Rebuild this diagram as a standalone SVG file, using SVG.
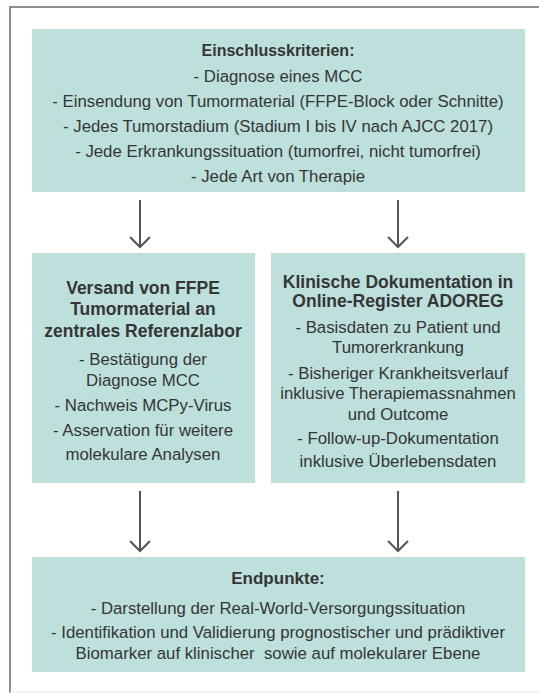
<svg xmlns="http://www.w3.org/2000/svg" width="539" height="693" viewBox="0 0 539 693">
<defs>
<style>
.box{fill:#bde0dc;}
.t{font-family:"Liberation Sans",Arial,sans-serif;font-size:16.8px;fill:#353535;text-anchor:middle;}
.b{font-weight:bold;font-size:17.5px;}
.arr{stroke:#555;stroke-width:2;fill:none;}
</style>
</defs>
<rect x="0" y="0" width="539" height="693" fill="#fff"/>
<g id="frame">
<path d="M10,693 V7 H539" stroke="#8e8e8e" stroke-width="2" fill="none"/>
<line x1="10" y1="692" x2="539" y2="692" stroke="#e6e6e6" stroke-width="1"/>
</g>
<g id="einschluss">
<rect class="box" x="32" y="29" width="493" height="163"/>
<text class="t b" x="278" y="56" style="font-size:16px">Einschlusskriterien:</text>
<text class="t" x="278" y="82">- Diagnose eines MCC</text>
<text class="t" x="278" y="107">- Einsendung von Tumormaterial (FFPE-Block oder Schnitte)</text>
<text class="t" x="278" y="132">- Jedes Tumorstadium (Stadium I bis IV nach AJCC 2017)</text>
<text class="t" x="278" y="157">- Jede Erkrankungssituation (tumorfrei, nicht tumorfrei)</text>
<text class="t" x="278" y="182">- Jede Art von Therapie</text>
</g>
<g id="versand">
<rect class="box" x="32" y="253" width="223" height="230"/>
<text class="t b" x="143" y="294">Versand von FFPE</text>
<text class="t b" x="143" y="315">Tumormaterial an</text>
<text class="t b" x="143" y="337">zentrales Referenzlabor</text>
<text class="t" x="143" y="365">- Bestätigung der</text>
<text class="t" x="143" y="386">Diagnose MCC</text>
<text class="t" x="143" y="411">- Nachweis MCPy-Virus</text>
<text class="t" x="143" y="436">- Asservation für weitere</text>
<text class="t" x="143" y="460">molekulare Analysen</text>
</g>
<g id="klinisch">
<rect class="box" x="271" y="253" width="254" height="230"/>
<text class="t b" x="398" y="288">Klinische Dokumentation in</text>
<text class="t b" x="398" y="307">Online-Register ADOREG</text>
<text class="t" x="398" y="333">- Basisdaten zu Patient und</text>
<text class="t" x="398" y="353">Tumorerkrankung</text>
<text class="t" x="398" y="379">- Bisheriger Krankheitsverlauf</text>
<text class="t" x="398" y="399">inklusive Therapiemassnahmen</text>
<text class="t" x="398" y="420">und Outcome</text>
<text class="t" x="398" y="444">- Follow-up-Dokumentation</text>
<text class="t" x="398" y="467">inklusive Überlebensdaten</text>
</g>
<g id="endpunkte">
<rect class="box" x="32" y="557" width="493" height="115"/>
<text class="t b" x="278" y="584" style="font-size:17px">Endpunkte:</text>
<text class="t" x="278" y="614">- Darstellung der Real-World-Versorgungssituation</text>
<text class="t" x="278" y="638">- Identifikation und Validierung prognostischer und prädiktiver</text>
<text class="t" x="278" y="659" xml:space="preserve">Biomarker auf klinischer  sowie auf molekularer Ebene</text>
</g>
<g id="connectors">
<path class="arr" d="M140,200 V246 M130,237 L140,247 L150,237"/>
<path class="arr" d="M398,200 V246 M388,237 L398,247 L408,237"/>
<path class="arr" d="M140,491 V550 M130,541 L140,551 L150,541"/>
<path class="arr" d="M398,491 V550 M388,541 L398,551 L408,541"/>
</g>
</svg>
